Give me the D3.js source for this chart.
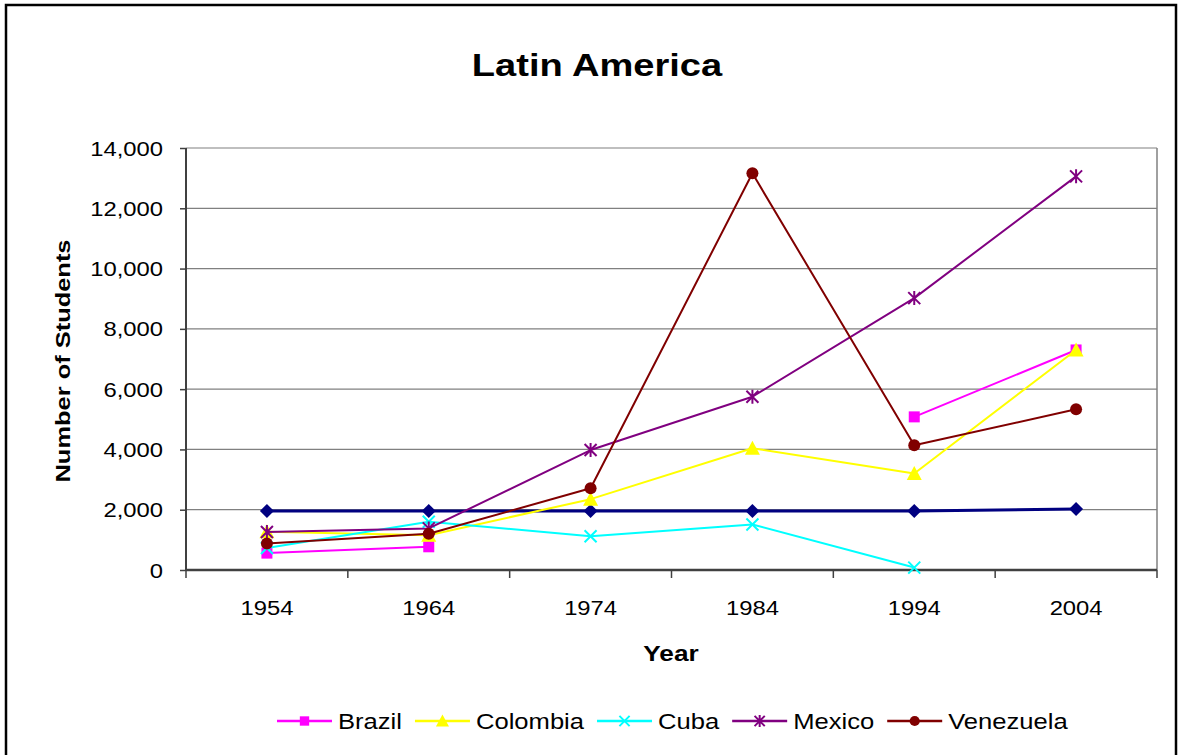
<!DOCTYPE html>
<html>
<head>
<meta charset="utf-8">
<script src="https://cdn.jsdelivr.net/npm/d3@7"></script>
<style>
  html, body { margin: 0; padding: 0; background: #fff; }
  svg { display: block; }
  text { font-family: "Liberation Sans", Arial, sans-serif; fill: #000; }
</style>
</head>
<body>
<svg id="chart" width="1181" height="755"></svg>
<script>
// Student counts by decade, Latin America
const years = ["1954", "1964", "1974", "1984", "1994", "2004"];
const yTicks = [0, 2000, 4000, 6000, 8000, 10000, 12000, 14000];

const brazil    = [560, 770, null, null, 5080, 7300];
const colombia  = [1270, 1150, 2350, 4040, 3200, 7300];
const cuba      = [730, 1600, 1120, 1510, 80, null];
const mexico    = [1260, 1380, 3980, 5750, 9020, 13060];
const venezuela = [880, 1200, 2710, 13160, 4140, 5330];
const reference = [1960, 1960, 1960, 1960, 1960, 2020];

const seriesNames = ["Brazil", "Colombia", "Cuba", "Mexico", "Venezuela"];

const series = [
  { name: null,        values: reference, color: "#000080", marker: "diamond",  width: 3 },
  { name: "Brazil",    values: brazil,    color: "#FF00FF", marker: "square",   width: 2 },
  { name: "Colombia",  values: colombia,  color: "#FFFF00", marker: "triangle", width: 2 },
  { name: "Cuba",      values: cuba,      color: "#00FFFF", marker: "cross",    width: 2 },
  { name: "Mexico",    values: mexico,    color: "#800080", marker: "star",     width: 2 },
  { name: "Venezuela", values: venezuela, color: "#800000", marker: "circle",   width: 2 }
];

const svg = d3.select("#chart");
const STRETCH = 1.19; // horizontal text widening

const plot = { left: 186, right: 1157, top: 148, bottom: 570 };

const x = d3.scaleBand().domain(years).range([plot.left, plot.right]).padding(0);
const y = d3.scaleLinear().domain([0, 14000]).range([plot.bottom, plot.top]);
const cx = d => x(d) + x.bandwidth() / 2;

// outer frame
svg.append("rect")
  .attr("x", 6).attr("y", 5).attr("width", 1170).attr("height", 760)
  .attr("fill", "none").attr("stroke", "#000").attr("stroke-width", 2.5);

// horizontally widened text helper
function wideText(g, tx, ty, str, size, weight, anchor) {
  return g.append("text")
    .attr("transform", `translate(${tx},${ty}) scale(${STRETCH},1)`)
    .attr("text-anchor", anchor || "middle")
    .style("font-size", size + "px")
    .style("font-weight", weight || "normal")
    .text(str);
}

// title
wideText(svg, 597, 76, "Latin America", 32, "bold");

// gridlines
svg.append("g")
  .selectAll("line").data(yTicks.filter(t => t > 0)).join("line")
  .attr("x1", plot.left).attr("x2", plot.right)
  .attr("y1", d => y(d)).attr("y2", d => y(d))
  .attr("stroke", "#808080").attr("stroke-width", 1.2);

// right edge of plot area
svg.append("line")
  .attr("x1", plot.right).attr("x2", plot.right)
  .attr("y1", plot.top).attr("y2", plot.bottom)
  .attr("stroke", "#808080").attr("stroke-width", 1.5);

// y axis
const yAxis = d3.axisLeft(y).tickValues(yTicks).tickSize(6).tickFormat(d3.format(","));
const gy = svg.append("g").attr("transform", `translate(${plot.left},0)`).call(yAxis);
gy.select(".domain").attr("stroke", "#404040").attr("stroke-width", 2).attr("d", `M0,${plot.top}V${plot.bottom}`);
gy.selectAll(".tick line").attr("stroke", "#404040").attr("stroke-width", 1.5);
gy.selectAll(".tick text").remove();
gy.selectAll(".tick").each(function(d) {
  wideText(d3.select(this), -23, 7, d3.format(",")(d), 20, "normal", "end");
});

// x axis: ticks at category boundaries
const gx = svg.append("g").attr("transform", `translate(0,${plot.bottom})`);
gx.append("line").attr("x1", plot.left).attr("x2", plot.right)
  .attr("y1", 0).attr("y2", 0).attr("stroke", "#404040").attr("stroke-width", 2.5);
const boundaries = years.map(d => x(d)).concat([plot.right]);
gx.selectAll("line.tk").data(boundaries).join("line").attr("class", "tk")
  .attr("x1", d => d).attr("x2", d => d).attr("y1", 0).attr("y2", 8)
  .attr("stroke", "#404040").attr("stroke-width", 1.5);
years.forEach(yr => wideText(gx, cx(yr), 45, yr, 20));

// axis titles
wideText(svg, 671, 661, "Year", 22, "bold");
svg.append("text")
  .attr("transform", `translate(70,361) rotate(-90)`)
  .attr("text-anchor", "middle")
  .style("font-size", "21px").style("font-weight", "bold")
  .attr("textLength", 243).attr("lengthAdjust", "spacingAndGlyphs")
  .text("Number of Students");

// marker shapes
function drawMarker(g, type, color, px, py, s) {
  s = s || 1;
  if (type === "diamond") {
    const r = 7 * s;
    g.append("path").attr("d", `M${px},${py - r}L${px + r},${py}L${px},${py + r}L${px - r},${py}Z`).attr("fill", color);
  } else if (type === "square") {
    const h = 5.5 * s;
    g.append("rect").attr("x", px - h).attr("y", py - h).attr("width", 2 * h).attr("height", 2 * h).attr("fill", color);
  } else if (type === "triangle") {
    const h = 6.5 * s;
    g.append("path").attr("d", `M${px},${py - h - 1}L${px + h + 1},${py + h}L${px - h - 1},${py + h}Z`).attr("fill", color);
  } else if (type === "circle") {
    g.append("circle").attr("cx", px).attr("cy", py).attr("r", 6 * s).attr("fill", color);
  } else if (type === "cross" || type === "star") {
    const h = 6 * s;
    let d = `M${px - h},${py - h}L${px + h},${py + h}M${px - h},${py + h}L${px + h},${py - h}`;
    if (type === "star") d += `M${px},${py - h - 1}L${px},${py + h + 1}`;
    g.append("path").attr("d", d).attr("stroke", color).attr("stroke-width", 2).attr("fill", "none");
  }
}

// series lines and markers
const line = d3.line()
  .defined(d => d.v !== null)
  .x(d => cx(d.year))
  .y(d => y(d.v));

series.forEach(s => {
  const pts = years.map((yr, i) => ({ year: yr, v: s.values[i] }));
  const g = svg.append("g");
  g.append("path").datum(pts).attr("d", line)
    .attr("fill", "none").attr("stroke", s.color).attr("stroke-width", s.width)
    .attr("stroke-linejoin", "round");
  pts.filter(p => p.v !== null).forEach(p => drawMarker(g, s.marker, s.color, cx(p.year), y(p.v)));
});

// legend
const legend = svg.append("g");
let lx = 277;
const ly = 721;
series.filter(s => s.name && seriesNames.includes(s.name)).forEach(s => {
  legend.append("line").attr("x1", lx).attr("x2", lx + 55).attr("y1", ly).attr("y2", ly)
    .attr("stroke", s.color).attr("stroke-width", 2.5);
  drawMarker(legend, s.marker, s.color, lx + 27.5, ly, 0.85);
  const t = wideText(legend, lx + 61, ly + 8, s.name, 21.5, "normal", "start");
  const w = t.node().getComputedTextLength() * STRETCH;
  lx = lx + 61 + w + 13;
});
</script>
</body>
</html>
